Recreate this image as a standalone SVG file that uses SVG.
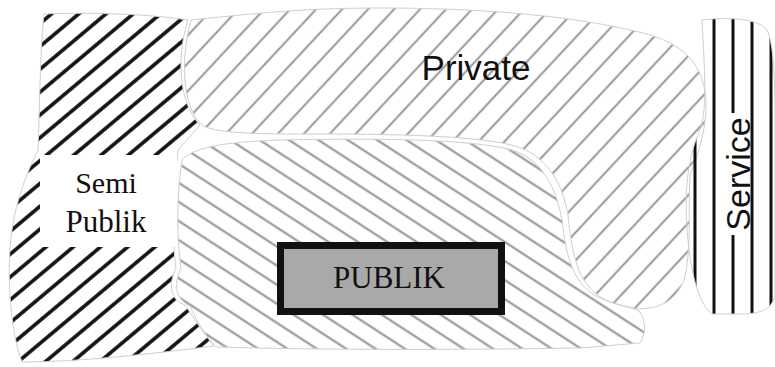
<svg xmlns="http://www.w3.org/2000/svg" width="775" height="367" viewBox="0 0 775 367">
<style>
.zone{stroke:#cfcfcf;stroke-width:1}
.serif{font-family:"Liberation Serif","Times New Roman",serif;fill:#111}
.sans{font-family:"Liberation Sans",Arial,sans-serif;fill:#111}
</style>
<defs>
<pattern id="hSemi" patternUnits="userSpaceOnUse" width="20" height="17.5" patternTransform="rotate(-40)">
<line x1="0" y1="8.75" x2="20" y2="8.75" stroke="#111" stroke-width="3.6"/>
</pattern>
<pattern id="hPriv" patternUnits="userSpaceOnUse" width="20" height="19" patternTransform="rotate(-47)">
<line x1="0" y1="9.5" x2="20" y2="9.5" stroke="#8a8a8a" stroke-width="1.8"/>
</pattern>
<pattern id="hPub" patternUnits="userSpaceOnUse" width="20" height="16" patternTransform="rotate(33)">
<line x1="0" y1="8" x2="20" y2="8" stroke="#a0a0a0" stroke-width="2.4"/>
</pattern>
<pattern id="hServ" patternUnits="userSpaceOnUse" width="19" height="20" x="685.5">
<line x1="9.5" y1="0" x2="9.5" y2="20" stroke="#111" stroke-width="3"/>
</pattern>
</defs>
<rect width="775" height="367" fill="#fff"/>

<g id="semi-publik">
<path class="zone" fill="url(#hSemi)" d="M 44 14 C 90 12, 150 14, 188 20 C 178 50, 176 100, 200 125 L 178 150 C 172 200, 172 240, 176 268 C 168 285, 170 300, 185 305 C 195 320, 205 335, 214 346 C 150 354, 80 362, 22 362 C 10 330, 6 270, 12 230 C 16 200, 28 170, 38 150 C 40 100, 40 50, 44 14 Z"/>
<rect x="40" y="155" width="137" height="92" fill="#fff"/>
<text class="serif" x="106" y="193" font-size="30" text-anchor="middle">Semi</text>
<text class="serif" x="106" y="232" font-size="31" text-anchor="middle">Publik</text>
</g>

<g id="private">
<path class="zone" fill="url(#hPriv)" d="M 191 20 C 250 14, 300 8, 380 8 C 470 8, 560 14, 630 30 C 680 40, 703 60, 706 100 C 707 125, 700 150, 690 175 C 688 210, 692 250, 684 280 C 676 300, 662 308, 640 309 C 615 306, 598 298, 590 288 C 575 272, 571 245, 568 215 C 562 180, 545 155, 515 146 C 480 136, 400 134, 320 134 C 260 134, 222 134, 203 126 C 182 108, 180 60, 191 20 Z"/>
<text class="sans" x="476" y="80" font-size="35" text-anchor="middle">Private</text>
</g>

<g id="publik-zone">
<path class="zone" fill="url(#hPub)" d="M 182 160 C 192 148, 222 142, 280 140 C 380 138, 470 139, 512 150 C 543 160, 556 188, 562 220 C 566 255, 572 282, 596 296 C 612 305, 632 306, 640 312 C 646 322, 646 334, 640 343 L 580 348 C 450 350, 320 350, 216 347 C 205 335, 196 320, 190 306 C 176 300, 173 285, 181 268 C 177 240, 176 200, 182 160 Z"/>
</g>

<g id="publik">
<rect x="280.5" y="245.5" width="221" height="66" fill="#a9a9a9" stroke="#111" stroke-width="7"/>
<text class="serif" x="389" y="288" font-size="31" text-anchor="middle">PUBLIK</text>
</g>

<g id="service">
<path class="zone" fill="url(#hServ)" d="M 702 20 C 725 17, 758 18, 767 30 C 774 45, 775 80, 775 120 L 775 295 C 772 310, 760 314, 740 314 L 712 314 C 700 305, 692 280, 688 240 C 684 200, 686 160, 700 130 C 708 110, 704 60, 702 20 Z"/>
<rect x="723" y="113" width="26.5" height="122" fill="#fff"/>
<text class="sans" x="0" y="0" font-size="34" text-anchor="middle" transform="translate(750 174) rotate(-90)">Service</text>
</g>
<g id="connectors"/>
</svg>
